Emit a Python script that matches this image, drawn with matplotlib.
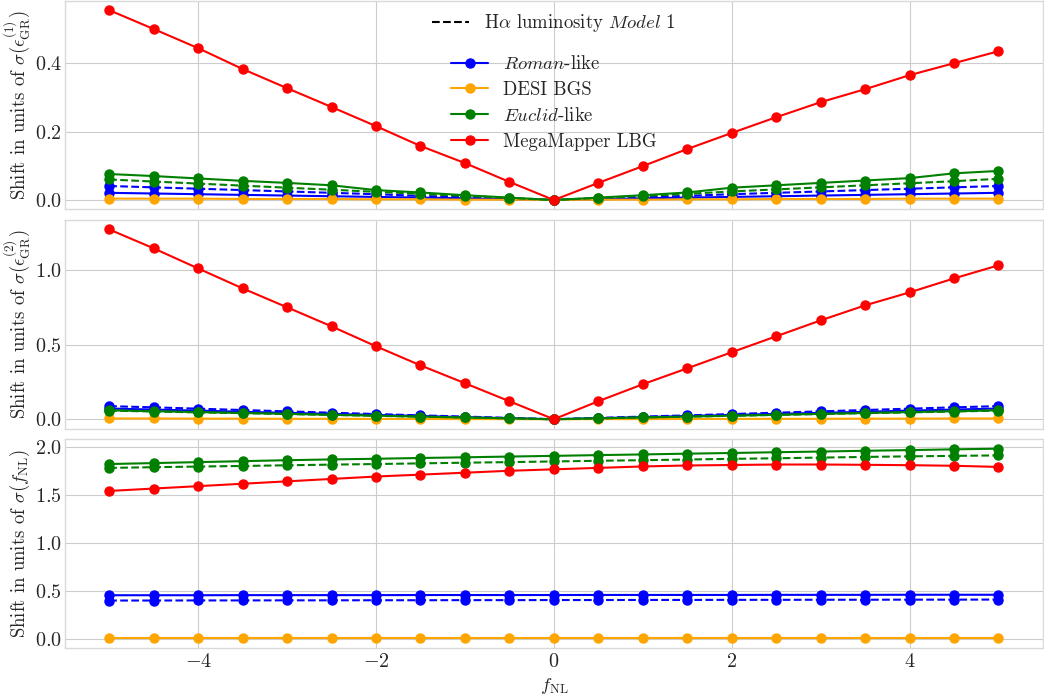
import numpy as np
import matplotlib
matplotlib.use('Agg')
import matplotlib.pyplot as plt

# fNL values
fnl = np.arange(-5, 5.01, 0.5)

# shifts in eps_GR^(1)
e1_roman = [0.021, 0.019, 0.017, 0.015, 0.013, 0.011, 0.009, 0.007, 0.005, 0.002, 0.0,
            0.002, 0.005, 0.007, 0.009, 0.011, 0.013, 0.015, 0.017, 0.019, 0.021]
e1_roman_ha = [0.041, 0.037, 0.033, 0.029, 0.025, 0.021, 0.017, 0.012, 0.008, 0.004, 0.0,
               0.004, 0.008, 0.012, 0.017, 0.021, 0.025, 0.029, 0.033, 0.037, 0.041]
e1_desi = [0.004, 0.004, 0.004, 0.003, 0.003, 0.003, 0.002, 0.002, 0.001, 0.001, 0.0,
           0.001, 0.001, 0.002, 0.002, 0.003, 0.003, 0.003, 0.004, 0.004, 0.004]
e1_euclid = [0.076, 0.070, 0.063, 0.056, 0.050, 0.043, 0.029, 0.022, 0.014, 0.007, 0.0,
             0.007, 0.014, 0.022, 0.036, 0.043, 0.050, 0.057, 0.064, 0.078, 0.085]
e1_euclid_ha = [0.060, 0.054, 0.048, 0.042, 0.036, 0.030, 0.024, 0.018, 0.012, 0.006, 0.0,
                0.006, 0.012, 0.018, 0.025, 0.031, 0.037, 0.043, 0.049, 0.055, 0.062]
e1_mm = [0.555, 0.500, 0.444, 0.383, 0.327, 0.272, 0.216, 0.158, 0.108, 0.053, 0.0,
         0.050, 0.099, 0.149, 0.196, 0.242, 0.286, 0.324, 0.365, 0.400, 0.435]

# shifts in eps_GR^(2)
e2_roman = [0.072, 0.065, 0.058, 0.050, 0.043, 0.036, 0.029, 0.022, 0.014, 0.007, 0.0,
            0.007, 0.014, 0.022, 0.029, 0.036, 0.043, 0.050, 0.058, 0.065, 0.072]
e2_roman_ha = [0.088, 0.080, 0.071, 0.062, 0.053, 0.044, 0.035, 0.026, 0.018, 0.009, 0.0,
               0.009, 0.018, 0.026, 0.035, 0.044, 0.053, 0.062, 0.071, 0.080, 0.088]
e2_desi = [0.005, 0.005, 0.004, 0.004, 0.003, 0.003, 0.002, 0.002, 0.001, 0.001, 0.0,
           0.001, 0.001, 0.002, 0.002, 0.003, 0.003, 0.004, 0.004, 0.005, 0.005]
e2_euclid = [0.060, 0.054, 0.048, 0.042, 0.036, 0.030, 0.024, 0.018, 0.012, 0.006, 0.0,
             0.006, 0.012, 0.018, 0.024, 0.030, 0.036, 0.042, 0.048, 0.054, 0.060]
e2_euclid_ha = [0.058, 0.052, 0.046, 0.041, 0.035, 0.029, 0.023, 0.017, 0.012, 0.006, 0.0,
                0.006, 0.012, 0.017, 0.023, 0.029, 0.035, 0.041, 0.046, 0.052, 0.058]
e2_mm = [1.275, 1.148, 1.013, 0.879, 0.752, 0.624, 0.490, 0.362, 0.242, 0.121, 0.0,
         0.121, 0.235, 0.342, 0.450, 0.557, 0.664, 0.765, 0.852, 0.946, 1.034]

# shifts in fNL
f_roman = [0.455, 0.455, 0.455, 0.456, 0.456, 0.456, 0.456, 0.457, 0.457, 0.457, 0.457,
           0.458, 0.458, 0.458, 0.458, 0.459, 0.459, 0.459, 0.460, 0.460, 0.460]
f_roman_ha = [0.400, 0.400, 0.401, 0.401, 0.402, 0.402, 0.403, 0.403, 0.404, 0.404, 0.405,
              0.405, 0.406, 0.406, 0.407, 0.407, 0.408, 0.408, 0.409, 0.409, 0.410]
f_desi = [0.005] * 21
f_euclid = [1.820, 1.830, 1.840, 1.850, 1.860, 1.868, 1.875, 1.883, 1.890, 1.898, 1.905,
            1.913, 1.920, 1.928, 1.935, 1.943, 1.950, 1.958, 1.965, 1.973, 1.980]
f_euclid_ha = [1.780, 1.787, 1.794, 1.800, 1.807, 1.814, 1.820, 1.827, 1.834, 1.840, 1.847,
               1.854, 1.860, 1.867, 1.874, 1.880, 1.887, 1.894, 1.900, 1.905, 1.910]
f_mm = [1.540, 1.565, 1.590, 1.615, 1.640, 1.665, 1.690, 1.710, 1.730, 1.750, 1.765,
        1.780, 1.795, 1.805, 1.810, 1.815, 1.815, 1.812, 1.808, 1.802, 1.790]

plt.style.use('seaborn-v0_8-whitegrid')
plt.rcParams['font.family'] = 'serif'
plt.rcParams['font.serif'] = ['cmr10']
plt.rcParams['mathtext.fontset'] = 'cm'
plt.rcParams['axes.formatter.use_mathtext'] = True
plt.rcParams['font.size'] = 13
plt.rcParams['xtick.labelsize'] = 14.5
plt.rcParams['ytick.labelsize'] = 14.5
plt.rcParams['ytick.major.pad'] = 2
plt.rcParams['axes.labelsize'] = 13.5

fig, axes = plt.subplots(3, 1, sharex=True, figsize=(10.44, 6.99), dpi=100)
fig.subplots_adjust(left=0.062, right=0.999, top=0.999, bottom=0.073, hspace=0.05)

sets = [
    (e1_roman, e1_roman_ha, e1_desi, e1_euclid, e1_euclid_ha, e1_mm),
    (e2_roman, e2_roman_ha, e2_desi, e2_euclid, e2_euclid_ha, e2_mm),
    (f_roman, f_roman_ha, f_desi, f_euclid, f_euclid_ha, f_mm),
]
ylabels = [r'Shift in units of $\sigma(\epsilon_{\rm GR}^{(1)})$',
           r'Shift in units of $\sigma(\epsilon_{\rm GR}^{(2)})$',
           r'Shift in units of $\sigma(f_{\rm NL})$']

st = dict(marker='o', markersize=6.5, linewidth=1.5)
for ax, (ro, roh, de, eu, euh, mm), yl in zip(axes, sets, ylabels):
    ax.plot(fnl, ro, color='blue', label=r'$\mathit{Roman}$-like', **st)
    ax.plot(fnl, roh, color='blue', linestyle='--', **st)
    ax.plot(fnl, de, color='orange', label='DESI BGS', **st)
    ax.plot(fnl, eu, color='green', label=r'$\mathit{Euclid}$-like', **st)
    ax.plot(fnl, euh, color='green', linestyle='--', **st)
    ax.plot(fnl, mm, color='red', label='MegaMapper LBG', **st)
    ax.set_ylabel(yl, labelpad=2)
    for s in ax.spines.values():
        s.set_visible(True)
        s.set_color('0.85')

axes[0].set_yticks([0.0, 0.2, 0.4])
axes[1].set_yticks([0.0, 0.5, 1.0])
axes[2].set_yticks([0.0, 0.5, 1.0, 1.5, 2.0])
axes[2].set_xlabel(r'$f_{\rm NL}$')

h_dash, = axes[0].plot([], [], color='black', linestyle='--',
                       label=r'H$\alpha$ luminosity $\mathit{Model\ 1}$')
leg1 = axes[0].legend(handles=[h_dash], loc='upper center', frameon=False,
                      bbox_to_anchor=(0.5, 1.025), fontsize=13.5)
axes[0].add_artist(leg1)
handles, labels = axes[0].get_legend_handles_labels()
axes[0].legend(handles[:4], labels[:4], loc='upper center', frameon=False,
               bbox_to_anchor=(0.5, 0.82), labelspacing=0.42, fontsize=13.5)

plt.savefig('out.png', dpi=100)
plt.close()
